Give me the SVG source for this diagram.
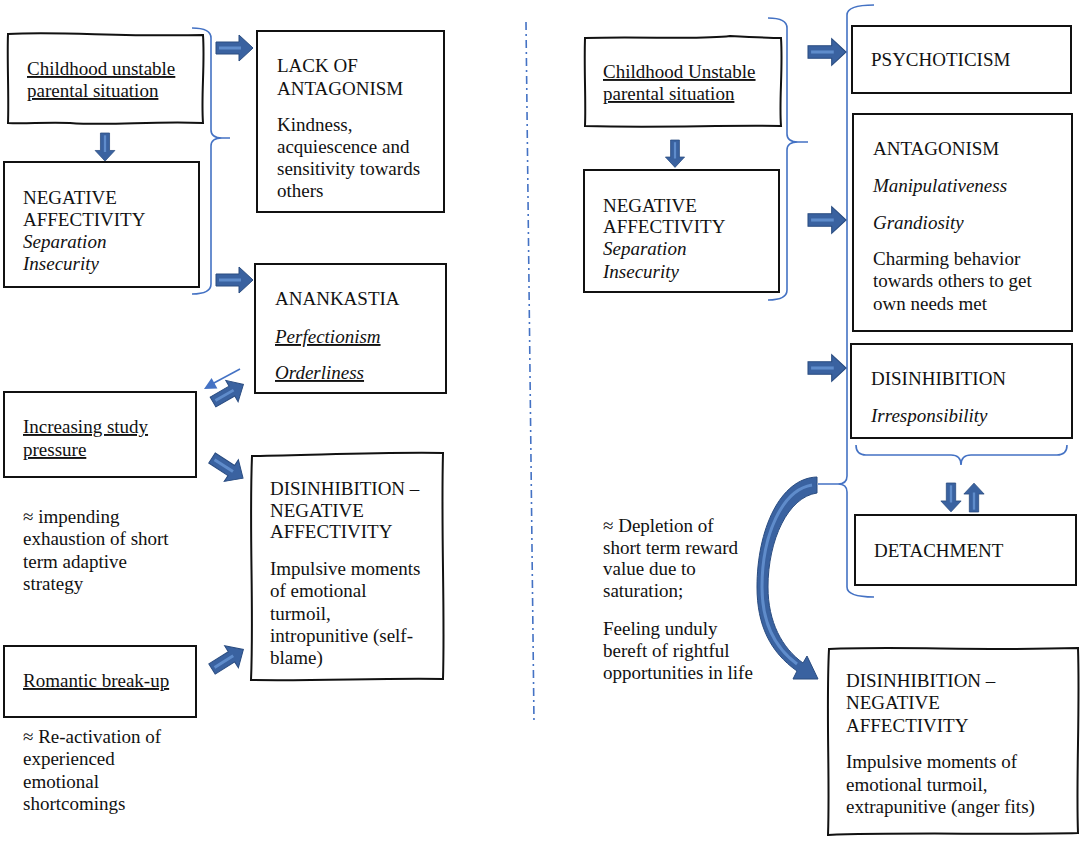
<svg xmlns="http://www.w3.org/2000/svg" width="1084" height="848" viewBox="0 0 1084 848">
<style>
text{font-family:"Liberation Serif","Times New Roman",serif;font-size:19px;fill:#111}
.it{font-style:italic}
.u{text-decoration:underline}
.box{fill:none;stroke:#111;stroke-width:2}
.brace{fill:none;stroke:#4472C4;stroke-width:1.6}
.blk{fill:#3A62A0;stroke:#2A4C80;stroke-width:1}
.hl{stroke:#5F8CCB;stroke-width:3;fill:none}
</style>
<defs>
<g id="ba">
<path class="blk" d="M0,-6 H23 V-13 L37,0 L23,13 V6 H0 Z"/>
<path class="hl" d="M3,0 H25"/>
</g>
</defs>
<rect width="1084" height="848" fill="#fff"/>

<g id="connectors">
<path class="brace" d="M192,28 Q211,28 211,38 V130 Q211,138 222,138 H230 M222,138 Q211,138 211,146 V284 Q211,294 192,294"/>
<path class="brace" d="M768,18 Q787,18 787,28 V134 Q787,142 798,142 H808 M798,142 Q787,142 787,150 V290 Q787,300 768,300"/>
<path class="brace" d="M874,5 Q847,5 847,15 V476 Q847,484 838,484 H818 M838,484 Q847,484 847,492 V587 Q847,597 874,597"/>
<path class="brace" d="M856,445 Q856,455 866,455 H951 Q961,455 961,465 Q961,455 971,455 H1057 Q1067,455 1067,445"/>
<line x1="526" y1="22" x2="534" y2="723" stroke="#4472C4" stroke-width="1.6" stroke-dasharray="8,4,2,4"/>
<use href="#ba" transform="translate(105,133) rotate(90) scale(0.76)"/>
<use href="#ba" transform="translate(216,48)"/>
<use href="#ba" transform="translate(216,280)"/>
<use href="#ba" transform="translate(213,402) rotate(-30) scale(0.95)"/>
<use href="#ba" transform="translate(212,458) rotate(33)"/>
<use href="#ba" transform="translate(212,669) rotate(-32)"/>
<line x1="240" y1="369" x2="212" y2="384" stroke="#4472C4" stroke-width="1.5"/>
<polygon points="204,389 217.4,388.4 211.6,378" fill="#4472C4"/>
<use href="#ba" transform="translate(675,140) rotate(90) scale(0.74)"/>
<use href="#ba" transform="translate(808,52) scale(1.03)"/>
<use href="#ba" transform="translate(808,220) scale(1.03)"/>
<use href="#ba" transform="translate(808,368) scale(1.03)"/>
<use href="#ba" transform="translate(951,483) rotate(90) scale(0.78)"/>
<use href="#ba" transform="translate(974,512) rotate(-90) scale(0.78)"/>
<path class="blk" d="M817,477 C780,478 757,530 757,587 C757,625 770,652 797,671 L793,679 L818,679 L807,656 L803,663 C782,648 768,622 768,587 C768,540 788,497 817,493 Z"/>
<path class="hl" stroke-width="2.5" d="M812,485 C782,490 762,535 762,587 C762,622 774,647 797,664"/>
</g>

<g id="n-childhood-left">
<path class="box" d="M8,34 C60,31 120,37 203,35 C205,65 201,95 203,123 C150,121 110,126 70,123 C45,122 25,124 8,123 C9,95 7,60 8,34 Z"/>
<text x="27" y="75" class="u">Childhood unstable</text>
<text x="27" y="97" class="u">parental situation</text>
</g>
<g id="n-negaff-left">
<rect class="box" x="4" y="162" width="195" height="125"/>
<text x="23" y="204">NEGATIVE</text>
<text x="23" y="226">AFFECTIVITY</text>
<text x="23" y="248" class="it">Separation</text>
<text x="23" y="270" class="it">Insecurity</text>
</g>
<g id="n-lack">
<rect class="box" x="257" y="31" width="187" height="181"/>
<text x="277" y="72">LACK OF</text>
<text x="277" y="95">ANTAGONISM</text>
<text x="277" y="131">Kindness,</text>
<text x="277" y="153">acquiescence and</text>
<text x="277" y="175">sensitivity towards</text>
<text x="277" y="197">others</text>
</g>
<g id="n-anankastia">
<rect class="box" x="255" y="264" width="191" height="129"/>
<text x="275" y="305">ANANKASTIA</text>
<text x="275" y="343" class="it u">Perfectionism</text>
<text x="275" y="379" class="it u">Orderliness</text>
</g>
<g id="n-study">
<rect class="box" x="4" y="392" width="192" height="85"/>
<text x="23" y="433" class="u">Increasing study</text>
<text x="23" y="456" class="u">pressure</text>
</g>
<g id="t-impending">
<text x="23" y="523">≈ impending</text>
<text x="23" y="545">exhaustion of short</text>
<text x="23" y="568">term adaptive</text>
<text x="23" y="590">strategy</text>
</g>
<g id="n-dis-left">
<path class="box" d="M252,456 C320,455 380,452 443,453 C441,530 445,610 443,679 C380,678 320,681 251,680 C254,610 249,530 252,456 Z"/>
<text x="270" y="495">DISINHIBITION –</text>
<text x="270" y="517">NEGATIVE</text>
<text x="270" y="538">AFFECTIVITY</text>
<text x="270" y="575">Impulsive moments</text>
<text x="270" y="597">of emotional</text>
<text x="270" y="620">turmoil,</text>
<text x="270" y="642">intropunitive (self-</text>
<text x="270" y="664">blame)</text>
</g>
<g id="n-romantic">
<rect class="box" x="4" y="646" width="192" height="71"/>
<text x="23" y="687" class="u">Romantic break-up</text>
</g>
<g id="t-reactivation">
<text x="23" y="743">≈ Re-activation of</text>
<text x="23" y="765">experienced</text>
<text x="23" y="788">emotional</text>
<text x="23" y="810">shortcomings</text>
</g>

<g id="n-childhood-right">
<path class="box" d="M585,38 C640,36 700,40 730,36 C750,37 770,38 781,38 C783,70 779,100 781,126 C720,125 660,128 585,126 C586,100 584,70 585,38 Z"/>
<text x="603" y="78" class="u">Childhood Unstable</text>
<text x="603" y="100" class="u">parental situation</text>
</g>
<g id="n-negaff-right">
<rect class="box" x="584" y="170" width="195" height="122"/>
<text x="603" y="212">NEGATIVE</text>
<text x="603" y="233">AFFECTIVITY</text>
<text x="603" y="255" class="it">Separation</text>
<text x="603" y="278" class="it">Insecurity</text>
</g>
<g id="n-psychoticism">
<rect class="box" x="852" y="26" width="219" height="67"/>
<text x="871" y="66">PSYCHOTICISM</text>
</g>
<g id="n-antagonism">
<rect class="box" x="853" y="114" width="219" height="217"/>
<text x="873" y="155">ANTAGONISM</text>
<text x="873" y="192" class="it">Manipulativeness</text>
<text x="873" y="229" class="it">Grandiosity</text>
<text x="873" y="265">Charming behavior</text>
<text x="873" y="287">towards others to get</text>
<text x="873" y="310">own needs met</text>
</g>
<g id="n-disinhibition">
<rect class="box" x="851" y="344" width="221" height="94"/>
<text x="871" y="385">DISINHIBITION</text>
<text x="871" y="422" class="it">Irresponsibility</text>
</g>
<g id="n-detachment">
<rect class="box" x="855" y="515" width="221" height="70"/>
<text x="874" y="557">DETACHMENT</text>
</g>
<g id="t-depletion">
<text x="603" y="532">≈ Depletion of</text>
<text x="603" y="554">short term reward</text>
<text x="603" y="575">value due to</text>
<text x="603" y="597">saturation;</text>
<text x="603" y="635">Feeling unduly</text>
<text x="603" y="657">bereft of rightful</text>
<text x="603" y="679">opportunities in life</text>
</g>
<g id="n-dis-right">
<path class="box" d="M829,649 C900,646 980,651 1078,648 C1080,710 1076,780 1078,833 C1000,835 900,832 828,835 C830,780 826,710 829,649 Z"/>
<text x="846" y="687">DISINHIBITION –</text>
<text x="846" y="709">NEGATIVE</text>
<text x="846" y="732">AFFECTIVITY</text>
<text x="846" y="768">Impulsive moments of</text>
<text x="846" y="791">emotional turmoil,</text>
<text x="846" y="813">extrapunitive (anger fits)</text>
</g>
</svg>
